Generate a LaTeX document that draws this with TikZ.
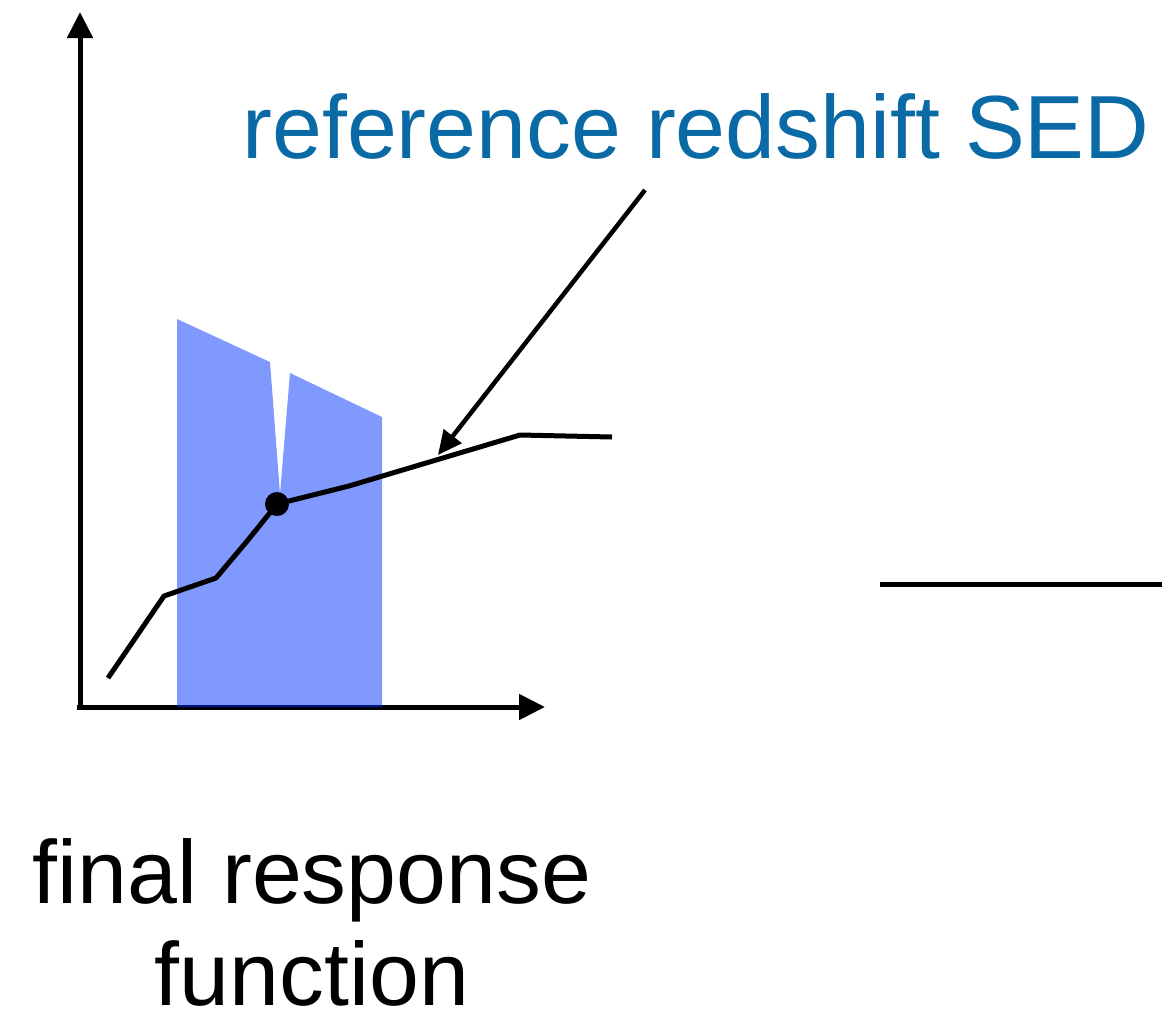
\documentclass[tikz,border=0pt]{standalone}
\usepackage{fontspec}
\setmainfont{Liberation Sans}
\usepackage{xcolor}
\usepackage{tikz}
\usetikzlibrary{arrows.meta,positioning}

\definecolor{sedblue}{RGB}{10,106,166}
\definecolor{bandblue}{RGB}{0,51,255}

\begin{document}
\begin{tikzpicture}[
  x=1bp, y=-1bp,
  axis/.style={line width=5bp, -{Triangle[length=26bp,width=25bp]}},
  curve/.style={line width=5bp, line join=round},
  pointer/.style={line width=4.5bp, -{Triangle[length=24bp,width=22bp]}},
  band/.style={fill=bandblue, fill opacity=0.5},
  label/.style={font=\fontsize{90}{102}\selectfont, inner sep=0pt}
]
\useasboundingbox (0,0) rectangle (1162,1025);

\coordinate (origin) at (80,707);
\coordinate (ytip) at (80,12);
\coordinate (xtip) at (545,707);
\draw[axis] (77,707) -- (xtip);
\draw[axis] (80,709) -- (ytip);

\fill[band] (177,707) -- (177,319) -- (270,362) -- (280,494) -- (290,373)
  -- (382,417) -- (382,707) -- cycle;

\coordinate (refpt) at (277,504);
\draw[curve] (108,678) -- (164,596) -- (216,578) -- (248,540) -- (refpt)
  -- (349,486) -- (520,435) -- (612,437);
\fill (refpt) circle (12);

\node[label, text=sedblue, anchor=base] (sedlabel) at (696,158) {reference redshift SED};
\coordinate (pstart) at (645,190);
\coordinate (pend) at (438,455);
\draw[pointer] (pstart) -- (pend);

\coordinate (segl) at (880,584);
\coordinate (segr) at (1162,584);
\draw[line width=5bp] (segl) -- (segr);

\node[label, align=center, anchor=base] (resp) at (312,1005) {final response\\function};
\end{tikzpicture}
\end{document}
